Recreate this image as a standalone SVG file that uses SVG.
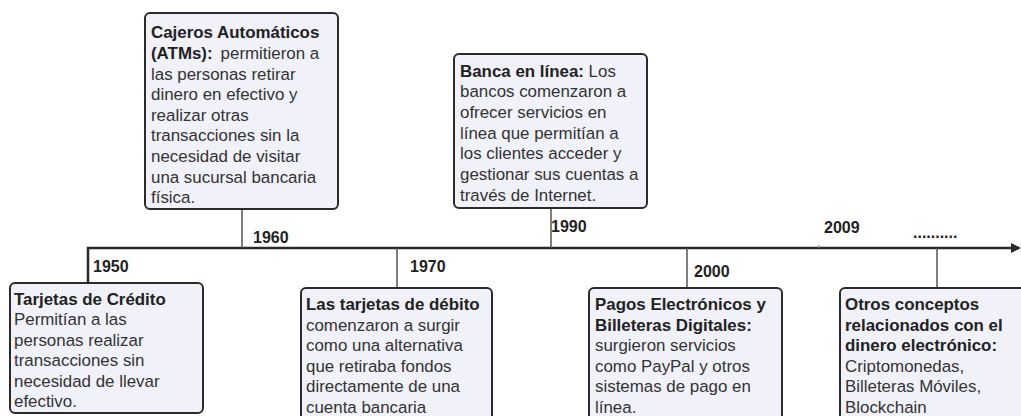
<svg xmlns="http://www.w3.org/2000/svg" width="1021" height="416" viewBox="0 0 1021 416">
<style>
.box{fill:#f1f1f9;stroke:#2b2b2b;stroke-width:2}
.t{font-family:"Liberation Sans",Arial,sans-serif;font-size:16.9px;fill:#333}
.b{font-weight:bold;fill:#222}
.yr{font-family:"Liberation Sans",Arial,sans-serif;font-size:16px;font-weight:bold;fill:#222}
.stem{stroke:#555;stroke-width:1.5;fill:none}
.main{stroke:#2b2b2b;stroke-width:2.5;fill:none}
</style>
<defs>
<marker id="arr" markerWidth="10" markerHeight="10" refX="8" refY="5" orient="auto" markerUnits="userSpaceOnUse">
<path d="M0,0 L10,5 L0,10 Z" fill="#2b2b2b"/>
</marker>
</defs>
<rect width="1021" height="416" fill="#ffffff"/>
<g id="connectors">
<path class="main" d="M88,283 L88,248 L1019,248" marker-end="url(#arr)"/>
<line class="stem" x1="242" y1="209" x2="242" y2="248"/>
<line class="stem" x1="397" y1="248" x2="397" y2="288"/>
<line class="stem" x1="551" y1="208" x2="551" y2="248"/>
<line class="stem" x1="687" y1="248" x2="687" y2="288"/>
<line class="stem" x1="937" y1="248" x2="937" y2="288"/>
<line stroke="#888" stroke-width="1" x1="819" y1="245" x2="819" y2="248"/>
</g>
<g id="years">
<text class="yr" x="93" y="272">1950</text>
<text class="yr" x="253" y="243">1960</text>
<text class="yr" x="410" y="272">1970</text>
<text class="yr" x="551" y="232">1990</text>
<text class="yr" x="694" y="277">2000</text>
<text class="yr" x="824" y="233">2009</text>
<text class="yr" x="913" y="238" font-size="12">..........</text>
</g>
<g id="n1950">
<rect class="box" x="10" y="283" width="193" height="130" rx="5"/>
<text class="t" x="14"><tspan class="b" y="305">Tarjetas de Crédito</tspan><tspan x="14" y="325">Permitían a las</tspan><tspan x="14" y="346">personas realizar</tspan><tspan x="14" y="366">transacciones sin</tspan><tspan x="14" y="387">necesidad de llevar</tspan><tspan x="14" y="407">efectivo.</tspan></text>
</g>
<g id="n1960">
<rect class="box" x="145" y="13" width="193" height="196" rx="5"/>
<text class="t" x="151"><tspan class="b" y="38">Cajeros Automáticos</tspan><tspan x="151" y="59" class="b">(ATMs):</tspan><tspan dx="8">permitieron a</tspan><tspan x="151" y="80">las personas retirar</tspan><tspan x="151" y="100">dinero en efectivo y</tspan><tspan x="151" y="121">realizar otras</tspan><tspan x="151" y="141">transacciones sin la</tspan><tspan x="151" y="162">necesidad de visitar</tspan><tspan x="151" y="183">una sucursal bancaria</tspan><tspan x="151" y="203">física.</tspan></text>
</g>
<g id="n1970">
<rect class="box" x="301" y="288" width="191" height="135" rx="5"/>
<text class="t" x="306"><tspan class="b" y="310">Las tarjetas de débito</tspan><tspan x="306" y="331">comenzaron a surgir</tspan><tspan x="306" y="351">como una alternativa</tspan><tspan x="306" y="372">que retiraba fondos</tspan><tspan x="306" y="392">directamente de una</tspan><tspan x="306" y="413">cuenta bancaria</tspan></text>
</g>
<g id="n1990">
<rect class="box" x="454" y="54" width="193" height="154" rx="5"/>
<text class="t" x="460"><tspan class="b" y="77">Banca en línea:</tspan><tspan> Los</tspan><tspan x="460" y="97">bancos comenzaron a</tspan><tspan x="460" y="118">ofrecer servicios en</tspan><tspan x="460" y="139">línea que permitían a</tspan><tspan x="460" y="159">los clientes acceder y</tspan><tspan x="460" y="180">gestionar sus cuentas a</tspan><tspan x="460" y="201">través de Internet.</tspan></text>
</g>
<g id="n2000">
<rect class="box" x="589" y="288" width="193" height="135" rx="5"/>
<text class="t" x="595"><tspan class="b" y="310">Pagos Electrónicos y</tspan><tspan class="b" x="595" y="331">Billeteras Digitales:</tspan><tspan x="595" y="351">surgieron servicios</tspan><tspan x="595" y="372">como PayPal y otros</tspan><tspan x="595" y="392">sistemas de pago en</tspan><tspan x="595" y="413">línea.</tspan></text>
</g>
<g id="n2009">
<rect class="box" x="840" y="288" width="200" height="135" rx="5"/>
<text class="t" x="845"><tspan class="b" y="310">Otros conceptos</tspan><tspan class="b" x="845" y="331">relacionados con el</tspan><tspan class="b" x="845" y="351">dinero electrónico:</tspan><tspan x="845" y="372">Criptomonedas,</tspan><tspan x="845" y="392">Billeteras Móviles,</tspan><tspan x="845" y="413">Blockchain</tspan></text>
</g>
</svg>
